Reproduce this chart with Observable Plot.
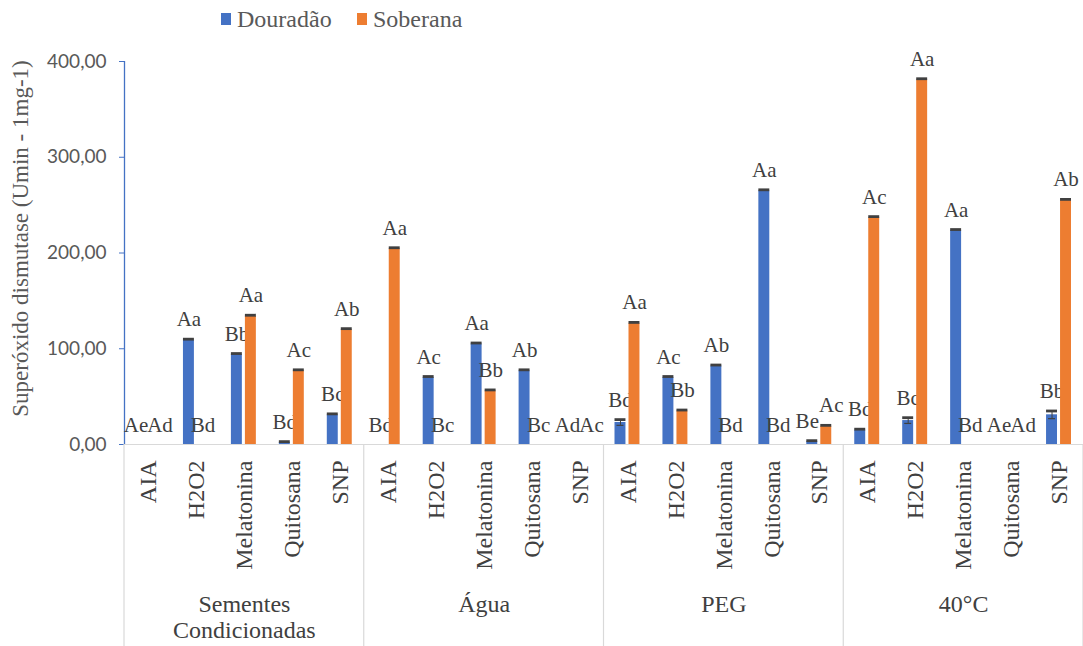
<!DOCTYPE html>
<html>
<head>
<meta charset="utf-8">
<script src="https://cdn.jsdelivr.net/npm/d3@7"></script>
<script src="https://cdn.jsdelivr.net/npm/@observablehq/plot@0.6"></script>
<style>
  body { margin: 0; background: #fff; width: 1083px; height: 646px; overflow: hidden; }
  #legend { height: 30px; position: relative; font-family: 'Liberation Serif', 'Times New Roman', serif; font-size: 24px; color: #595959; }
  .sw { position: absolute; top: 13px; width: 10px; height: 12px; }
  .lt { position: absolute; top: 7px; line-height: 24px; white-space: nowrap; }
</style>
</head>
<body>
<div id="legend"></div>
<div id="chart"></div>
<script>
const groups = ["Sementes\nCondicionadas", "Água", "PEG", "40°C"];
const treatments = ["AIA", "H2O2", "Melatonina", "Quitosana", "SNP"];
const seriesNames = ["Douradão", "Soberana"];
const seriesColors = ["#4472C4", "#ED7D31"];

const douradao = [0, 109, 94, 2, 31,   0, 70, 105, 77, 0,   23, 70, 82, 265, 3,   15, 25, 223.5, 0, 31];
const soberana = [0, 0, 134, 77, 120,  204.5, 0, 56, 0, 0,  126.5, 35, 0, 0, 19,  237, 381, 0, 0, 255];
const douradaoErr = [0, 1, 1, 1, 1,  0, 1, 1, 1, 0,  3, 1, 1, 1, 1,  1, 3, 1, 0, 4];
const soberanaErr = [0, 0, 1, 1, 1,  1, 0, 1, 0, 0,  1, 1, 0, 0, 1,  1, 1, 0, 0, 1];
const douradaoLetters = ["Ae","Aa","Bb","Bd","Bc", "Bd","Ac","Aa","Ab","Ad", "Bd","Ac","Ab","Aa","Be", "Bd","Bc","Aa","Ae","Bb"];
const soberanaLetters = ["Ad","Bd","Aa","Ac","Ab", "Aa","Bc","Bb","Bc","Ac", "Aa","Bb","Bd","Bd","Ac", "Ac","Aa","Bd","Ad","Ab"];
const yTicks = [0, 100, 200, 300, 400];
const yTitle = "Superóxido dismutase (Umin - 1mg-1)";

const keys = groups.flatMap(g => treatments.map(t => g + "|" + t));
// pairs of short bars whose letter labels would collide are nudged apart
const crowded = keys.map((k, i) => douradao[i] <= 20 && soberana[i] <= 20);
const rowsD = keys.map((k, i) => ({key: k, value: douradao[i], err: douradaoErr[i], letter: douradaoLetters[i], apart: crowded[i]}));
const rowsS = keys.map((k, i) => ({key: k, value: soberana[i], err: soberanaErr[i], letter: soberanaLetters[i], apart: crowded[i]}));

// legend
const legend = document.getElementById("legend");
[[221, 237, 0], [357, 373, 1]].forEach(([sx, tx, i]) => {
  const sw = document.createElement("div");
  sw.className = "sw"; sw.style.left = sx + "px"; sw.style.background = seriesColors[i];
  const t = document.createElement("div");
  t.className = "lt"; t.style.left = tx + "px"; t.textContent = seriesNames[i];
  legend.appendChild(sw); legend.appendChild(t);
});

const serif = "'Liberation Serif', 'Times New Roman', serif";
const txt = "#404040";
const fmt = d => d.toFixed(2).replace(".", ",");

function seriesMarks(rows, color, il, ir, dx, apartDx) {
  return [
    Plot.barY(rows, {x: "key", y: "value", fill: color, insetLeft: il, insetRight: ir}),
    Plot.ruleX(rows.filter(d => d.err > 1), {x: "key", y1: d => d.value - d.err, y2: d => d.value + d.err, dx, stroke: "#404040", strokeWidth: 1}),
    Plot.tickY(rows.filter(d => d.err > 1), {x: "key", y: d => d.value - d.err, stroke: "#404040", strokeWidth: 1.2, insetLeft: il + 2, insetRight: ir + 2}),
    Plot.tickY(rows.filter(d => d.value > 0), {x: "key", y: d => d.value + d.err, stroke: "#404040", strokeWidth: 2.8, insetLeft: il, insetRight: ir}),
    Plot.text(rows.filter(d => !d.apart), {x: "key", y: d => d.value + d.err, text: "letter", dx, dy: -13, lineAnchor: "bottom", fontSize: 21, fontFamily: serif, fill: txt}),
    Plot.text(rows.filter(d => d.apart), {x: "key", y: d => d.value + d.err, text: "letter", dx: dx + apartDx, dy: -13, lineAnchor: "bottom", fontSize: 21, fontFamily: serif, fill: txt})
  ];
}

function xHalf() { return (1083 - 124) / keys.length / 2; }

const plot = Plot.plot({
  width: 1083, height: 616,
  marginTop: 31, marginBottom: 202, marginLeft: 124, marginRight: 0,
  x: {domain: keys, padding: 0, round: false},
  y: {domain: [0, 400]},
  style: {background: "white", overflow: "visible"},
  marks: [
    Plot.ruleY([0], {stroke: "#d9d9d9", strokeWidth: 1.2}),
    Plot.axisY({ticks: yTicks, tickFormat: fmt, tickSize: 5, tickPadding: 13, stroke: "#4472C4", fill: "#595959", fontSize: 19, fontFamily: "Lato, sans-serif", label: null}),
    Plot.ruleX([keys[0]], {dx: -xHalf(), stroke: "#4472C4", strokeWidth: 1.3}),
    Plot.axisX({tickRotate: -90, tickSize: 0, tickPadding: 16, tickFormat: d => d.split("|")[1], fontSize: 24, fontFamily: serif, fill: txt, label: null}),
    Plot.text(groups, {x: g => g + "|Melatonina", frameAnchor: "bottom", lineAnchor: "top", dy: 150, fontSize: 24, lineHeight: 1.05, fontFamily: serif, fill: txt}),
    Plot.text([yTitle], {frameAnchor: "left", textAnchor: "middle", rotate: -90, dx: -104, dy: -14.5, fontSize: 23, fontFamily: serif, fill: "#595959"}),
    ...seriesMarks(rowsD, seriesColors[0], 11, 26, -7.5, -5),
    ...seriesMarks(rowsS, seriesColors[1], 25, 12, 6.5, 5)
  ]
});
document.getElementById("chart").appendChild(plot);

// group separators below the baseline, positioned with the plot's own scales
const xs = plot.scale("x"), ys = plot.scale("y");
const y0 = ys.apply(0);
const bounds = groups.map(g => xs.apply(g + "|" + treatments[0])).concat([xs.apply(keys[keys.length - 1]) + xs.bandwidth]);
d3.select(plot).append("g").selectAll("line").data(bounds).join("line")
  .attr("x1", d => d).attr("x2", d => d)
  .attr("y1", y0).attr("y2", 616)
  .attr("stroke", "#d9d9d9").attr("stroke-width", 1.2);
</script>
</body>
</html>
